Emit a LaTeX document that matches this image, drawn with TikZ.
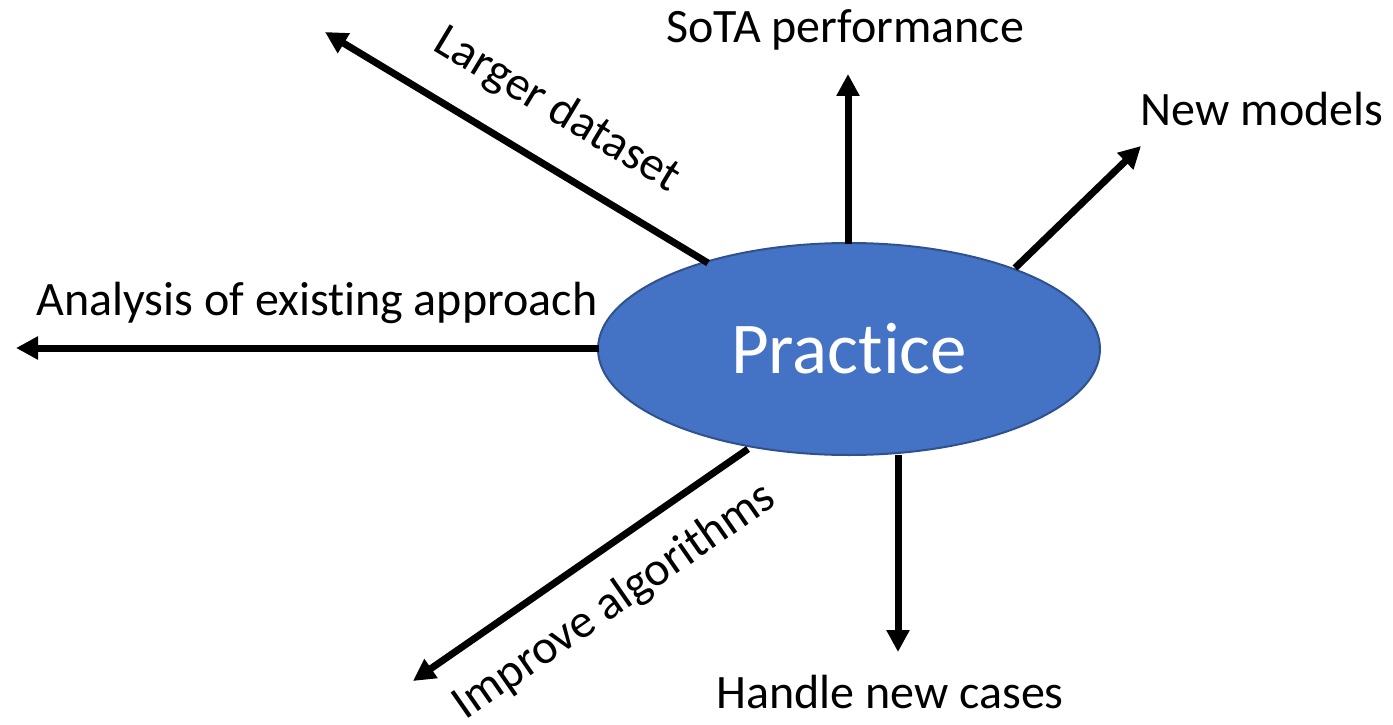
\documentclass[tikz,border=0pt]{standalone}
\usepackage{fontspec}
\setmainfont{Carlito}[Ligatures={NoCommon,NoContextual,NoRare}]
\usetikzlibrary{shapes.geometric,arrows.meta}
\definecolor{hubfill}{HTML}{4472C4}
\definecolor{hubline}{HTML}{2F528F}
% keeps t and i as separate glyphs
\newcommand{\tsep}{\hbox{}}
\begin{document}
\begin{tikzpicture}[x=1pt,y=-1pt,
  hub/.style={ellipse,draw=hubline,line width=2pt,fill=hubfill,text=white,
    minimum width=502pt,minimum height=212pt,inner sep=0pt,
    font=\fontsize{73}{88}\selectfont},
  lbl/.style={inner sep=0pt,font=\fontsize{48}{58}\selectfont},
  ray/.style={line width=7pt,-{Triangle[width=22pt,length=22pt]}}]
\useasboundingbox (0,0) rectangle (1393,725);
\node[hub] (P) at (849,349) {Pract\tsep ice};
% ray start points on the rim and tip points
\coordinate (s1) at (708,263); \coordinate (t1) at (325,32);
\coordinate (s2) at (848,244); \coordinate (t2) at (848,74);
\coordinate (s3) at (1015,268); \coordinate (t3) at (1141,146);
\coordinate (s4) at (599,348); \coordinate (t4) at (16,348);
\coordinate (s5) at (748,449); \coordinate (t5) at (413,681);
\coordinate (s6) at (898,455); \coordinate (t6) at (898,652);
\draw[ray] (s1) -- (t1);
\draw[ray] (s2) -- (t2);
\draw[ray] (s3) -- (t3);
\draw[ray] (s4) -- (t4);
\draw[ray] (s5) -- (t5);
\draw[ray] (s6) -- (t6);
% labels
\node[lbl,rotate=-31.1] (l1) at (557,110) {Larger dataset};
\node[lbl,anchor=base] (l2) at (845,43) {SoTA performance};
\node[lbl,anchor=base] (l3) at (1262,125) {New models};
\node[lbl,anchor=base] (l4) at (317,315) {Analysis of exist\tsep ing approach};
\node[lbl,rotate=34.8] (l5) at (615,602) {Improve algorithms};
\node[lbl,anchor=base] (l6) at (890,708) {Handle new cases};
\end{tikzpicture}
\end{document}
